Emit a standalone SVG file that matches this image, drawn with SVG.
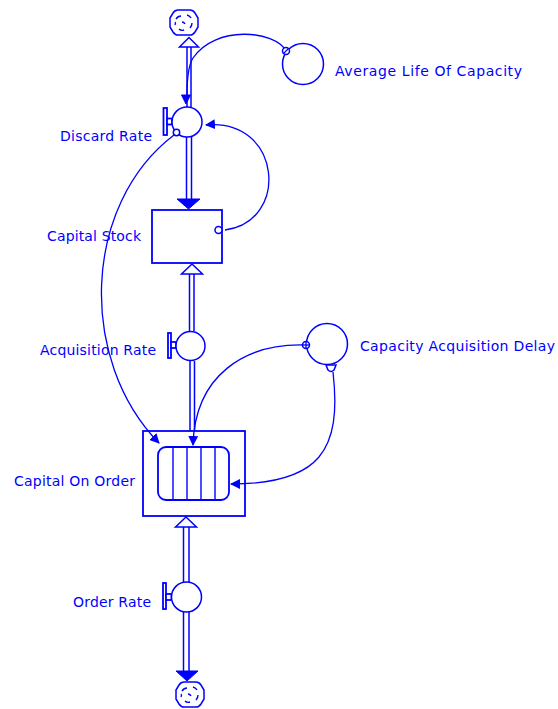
<svg xmlns="http://www.w3.org/2000/svg" width="558" height="709" viewBox="0 0 558 709">
<defs>
<style>
.ln{stroke:#0000ff;fill:none;stroke-width:1.4}
.bx{stroke:#0000ff;fill:#fff;stroke-width:1.8}
.ob{stroke:#0000ff;fill:none;stroke-width:1.8}
.ci{stroke:#0000ff;fill:#fff;stroke-width:1.5}
.pp{stroke:#0000ff;stroke-width:1.5;fill:none}
.fa{fill:#0000ff;stroke:#0000ff;stroke-width:1}
.ha{fill:#fff;stroke:#0000ff;stroke-width:1.5}
.lk{stroke:#0000ff;fill:none;stroke-width:1.3}
.tx{font-family:"DejaVu Sans",sans-serif;font-size:14px;fill:#0000ff}
.cl{stroke:#0000ff;fill:#fff;stroke-width:1.5}
.cs{stroke:#0000ff;fill:none;stroke-width:1.4}
</style>
<marker id="ah" viewBox="0 0 10 10" refX="9" refY="5" markerWidth="10" markerHeight="10" markerUnits="userSpaceOnUse" orient="auto">
<path d="M0,0 L10,5 L0,10 z" fill="#0000ff"/>
</marker>
<g id="cloudShape">
<path class="cl" d="M8,0 L20,0 Q23,0 25,3 L28,8 L28,17 L25,22 Q23,25 20,25 L8,25 Q5,25 3,22 L0,17 L0,8 L3,3 Q5,0 8,0 Z"/>
<path class="cs" d="M6,9 q2,-3 5,-3 M17,5 q3,1 4,3 M22,13 q0,3 -2,5 M14,20 q-3,1 -5,-1 M5,15 q1,-2 0,-3 M12,12 q2,0 3,2"/>
</g>
</defs>

<g id="connectors">
<!-- pipes -->
<line class="pp" x1="187" y1="47" x2="187" y2="107"/>
<line class="pp" x1="191" y1="47" x2="191" y2="107"/>
<line class="pp" x1="186.5" y1="137" x2="186.5" y2="199"/>
<line class="pp" x1="191.5" y1="137" x2="191.5" y2="199"/>
<line class="pp" x1="189.5" y1="274" x2="189.5" y2="331"/>
<line class="pp" x1="194" y1="274" x2="194" y2="331"/>
<line class="pp" x1="190" y1="361" x2="190" y2="431"/>
<line class="pp" x1="194.5" y1="361" x2="194.5" y2="431"/>
<line class="pp" x1="183.5" y1="527" x2="183.5" y2="582"/>
<line class="pp" x1="189" y1="527" x2="189" y2="582"/>
<line class="pp" x1="183.5" y1="612" x2="183.5" y2="671"/>
<line class="pp" x1="189" y1="612" x2="189" y2="671"/>
<!-- pipe arrowheads -->
<polygon class="ha" points="189,37.5 179.5,47 198.5,47"/>
<polygon class="fa" points="177,199 200,199 188.5,209"/>
<polygon class="ha" points="192,264 181.5,274 202.5,274"/>
<polygon class="ha" points="186,517 175.5,527 196.5,527"/>
<polygon class="fa" points="176,671 198,671 187,681"/>
<!-- links -->
<path class="lk" d="M286,51 C275,30 215,25 193,58 C188,66 187,80 187,95"/>
<polygon class="fa" points="186,104 181.5,95 190.5,95"/>
<path class="lk" d="M225,230 C290,222 282,118 206,125" marker-end="url(#ah)"/>
<path class="lk" d="M174,135 C82,205 78,360 159,443" marker-end="url(#ah)"/>
<path class="lk" d="M303,345 C245,344 195,375 193,445" marker-end="url(#ah)"/>
<path class="lk" d="M333,372 C342,450 320,484 231,484" marker-end="url(#ah)"/>
</g>

<g id="source-top">
<use href="#cloudShape" x="170" y="10"/>
</g>

<g id="discard-rate">
<rect x="163.5" y="108" width="3.5" height="27" class="bx" stroke-width="1.4"/>
<rect x="167" y="118.5" width="5" height="6" class="bx" stroke-width="1.2"/>
<circle cx="187" cy="122" r="15" class="ci"/>
<circle cx="176.5" cy="132.5" r="3.2" class="ci" stroke-width="1.2"/>
<text class="tx" x="60" y="141" textLength="92" lengthAdjust="spacing">Discard Rate</text>
</g>

<g id="average-life">
<circle cx="303" cy="64" r="20.5" class="ci"/>
<circle cx="286" cy="51" r="3.5" class="ci" stroke-width="1.2"/>
<line class="lk" x1="283.5" y1="53.5" x2="288.5" y2="48.5"/>
<text class="tx" x="335" y="76" textLength="187" lengthAdjust="spacing">Average Life Of Capacity</text>
</g>

<g id="capital-stock">
<rect x="152" y="210" width="70" height="53" class="bx"/>
<circle cx="218.5" cy="230" r="3.5" class="ci" stroke-width="1.2"/>
<text class="tx" x="47" y="241" textLength="94" lengthAdjust="spacing">Capital Stock</text>
</g>

<g id="acquisition-rate">
<rect x="168" y="333" width="3" height="25" class="bx" stroke-width="1.4"/>
<rect x="171" y="342" width="5" height="6" class="bx" stroke-width="1.2"/>
<circle cx="190.5" cy="346" r="14.5" class="ci"/>
<text class="tx" x="40" y="355" textLength="116" lengthAdjust="spacing">Acquisition Rate</text>
</g>

<g id="capacity-acquisition-delay">
<circle cx="327" cy="344" r="20.5" class="ci"/>
<circle cx="306" cy="345" r="3.5" class="ci" stroke-width="1.2"/>
<line class="lk" x1="302.5" y1="345" x2="309.5" y2="345"/>
<line class="lk" x1="306" y1="341.5" x2="306" y2="348.5"/>
<path class="ci" stroke-width="1.2" d="M326,365 L336,365 L334,370 Q331,373 328,370 Z"/>
<text class="tx" x="360" y="351" textLength="195" lengthAdjust="spacing">Capacity Acquisition Delay</text>
</g>

<g id="capital-on-order">
<rect x="143" y="431" width="102" height="85" class="ob"/>
<rect x="158" y="447" width="71" height="53" rx="8" ry="8" class="ob"/>
<line class="ln" x1="173" y1="447" x2="173" y2="500"/>
<line class="ln" x1="187" y1="447" x2="187" y2="500"/>
<line class="ln" x1="201" y1="447" x2="201" y2="500"/>
<line class="ln" x1="215" y1="447" x2="215" y2="500"/>
<text class="tx" x="14" y="486" textLength="121" lengthAdjust="spacing">Capital On Order</text>
</g>

<g id="order-rate">
<rect x="163" y="583" width="3" height="26" class="bx" stroke-width="1.4"/>
<rect x="166" y="594" width="5.5" height="6" class="bx" stroke-width="1.2"/>
<circle cx="186.5" cy="597" r="15" class="ci"/>
<text class="tx" x="73" y="606.5" textLength="78" lengthAdjust="spacing">Order Rate</text>
</g>

<g id="sink-bottom">
<use href="#cloudShape" x="176" y="682"/>
</g>
</svg>
